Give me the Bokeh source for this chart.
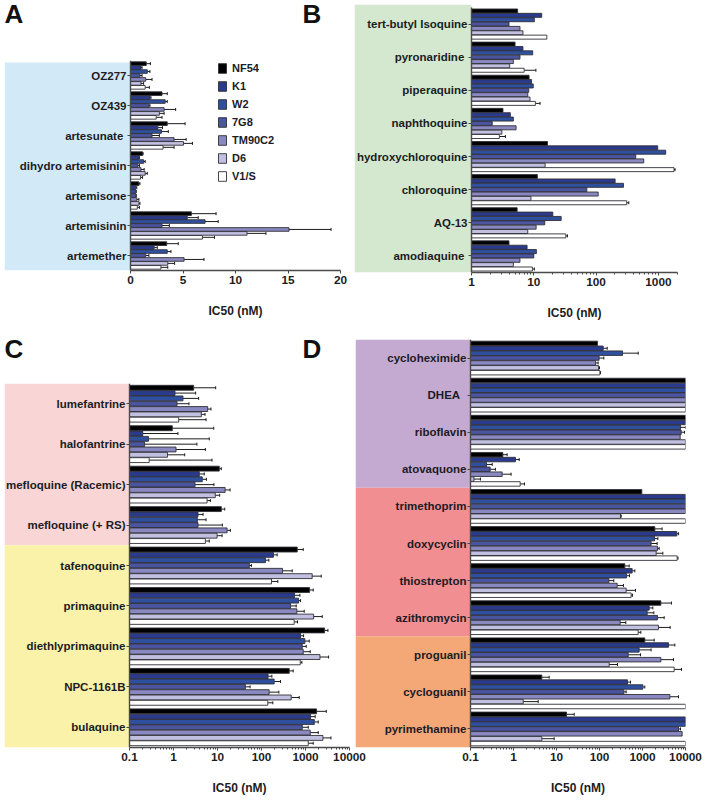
from math import log10

from bokeh.embed import file_html
from bokeh.layouts import column, row
from bokeh.models import (ColumnDataSource, FixedTicker, Label, Legend, LegendItem,
                          Range1d, TeeHead, Whisker)
from bokeh.plotting import figure
from bokeh.resources import INLINE

strains = ["NF54", "K1", "W2", "7G8", "TM90C2", "D6", "V1/S"]
strain_colors = ["#000000", "#2a3a8c", "#2f4f9f", "#4b559f", "#8a88c0", "#c2c0e0", "#ffffff"]
x_label = "IC50 (nM)"

# ---------- Panel A (top group first; strain order as above) ----------
a_drugs = ["OZ277", "OZ439", "artesunate ", "dihydro artemisinin", "artemisone", "artemisinin", "artemether"]
a_values = [
    [1.5, 1.0, 1.6, 0.9, 1.45, 1.0, 1.4],
    [3.0, 1.85, 3.3, 1.75, 3.2, 2.75, 2.45],
    [3.5, 2.6, 2.95, 2.05, 4.15, 5.05, 3.1],
    [1.15, 0.8, 1.25, 0.7, 1.0, 1.4, 0.95],
    [0.8, 0.5, 0.5, 0.5, 0.6, 0.8, 0.65],
    [5.8, 5.4, 7.1, 3.0, 15.1, 11.1, 6.85],
    [3.45, 2.25, 3.5, 1.45, 5.1, 3.55, 2.9],
]
a_upper = [
    [1.9, 1.1, 1.85, 1.1, 2.05, 1.25, 1.8],
    [3.5, 1.95, 3.5, 1.85, 4.3, 3.2, 3.0],
    [5.2, 3.05, 3.6, 2.75, 5.3, 5.9, 4.15],
    [1.2, 0.85, 1.4, 0.85, 1.3, 1.6, 1.15],
    [0.9, 0.6, 0.55, 0.55, 0.8, 0.9, 0.85],
    [8.15, 6.45, 8.35, 3.7, 19.1, 12.9, 8.0],
    [4.55, 2.55, 3.85, 1.75, 7.0, 4.2, 3.55],
]
a_bands = [("#d2eaf8", 7)]
a_ticks = [0, 5, 10, 15, 20]

# ---------- Panel B ----------
b_drugs = ["tert-butyl Isoquine", "pyronaridine ", "piperaquine", "naphthoquine", "hydroxychloroquine",
           "chloroquine", "AQ-13", "amodiaquine "]
b_values = [
    [5.5, 13.4, 10.2, 4.0, 6.0, 6.7, 16.2],
    [5.0, 6.7, 9.6, 6.0, 4.7, 4.1, 7.0],
    [8.4, 9.2, 9.8, 8.3, 8.0, 8.7, 10.6],
    [3.2, 4.2, 4.7, 2.15, 5.2, 3.07, 2.8],
    [16.6, 975, 1310, 433, 582, 15.2, 1780],
    [11.4, 202, 275, 71, 108, 9.0, 310],
    [5.4, 20.2, 27.5, 15, 10.9, 8.0, 32.6],
    [4.0, 7.8, 11, 10, 6.0, 4.7, 9.5],
]
b_upper = [
    [None, None, None, None, None, None, None],
    [None, None, None, None, None, None, 10.8],
    [None, None, None, None, None, None, 12.6],
    [None, None, None, None, None, None, 3.5],
    [None, None, None, None, None, None, 1850],
    [None, None, None, None, None, None, 335],
    [None, None, None, None, None, None, 34.7],
    [None, None, None, None, None, None, 10.2],
]
b_bands = [("#d3e8cf", 8)]
b_ticks = [1, 10, 100, 1000]

# ---------- Panel C ----------
c_drugs = ["lumefantrine", "halofantrine", "mefloquine (Racemic)", "mefloquine (+ RS)", "tafenoquine",
           "primaquine", "diethlyprimaquine", "NPC-1161B", "bulaquine"]
c_values = [
    [2.87, 1.08, 1.64, 1.2, 5.98, 4.29, 1.31],
    [0.94, 0.2, 0.27, 0.22, 1.14, 0.73, 0.28],
    [11, 3.86, 4.5, 3.08, 14.9, 8.9, 5.8],
    [12.2, 3.6, 3.48, 3.6, 16.5, 9.8, 5.3],
    [649, 187, 123, 53, 300, 1420, 169],
    [1240, 564, 695, 457, 637, 1530, 553],
    [2717, 772, 968, 843, 888, 2130, 759],
    [427, 141, 194, 43, 149, 473, 139],
    [1786, 1303, 1585, 843, 1282, 2490, 1153],
]
c_upper = [
    [9.1, 3.19, 3.73, 2.25, 7.1, 5.2, 5.5],
    [8.2, 1.26, 6.5, 3.4, 5.3, 1.8, 7.5],
    [12.2, 5.0, 5.6, 8.3, 19.3, 11.2, 6.9],
    [14.6, 4.7, 5.5, 12.9, 19.6, 12.7, 6.5],
    [887, 227, 147, 59, 499, 2280, 235],
    [1500, 745, 772, 615, 935, 2400, 659],
    [3235, 904, 1216, 1040, 1282, 3350, 828],
    [525, 172, 270, 55, 248, 720, 181],
    [2965, 1660, 1950, 1153, 1950, 3790, 1500],
]
c_bands = [("#f9d5d6", 4), ("#faf2a8", 5)]
log_ticks = [0.1, 1, 10, 100, 1000, 10000]

# ---------- Panel D ----------
d_drugs = ["cycloheximide", "DHEA  ", "riboflavin", "atovaquone", "trimethoprim", "doxycyclin", "thiostrepton",
           "azithromycin", "proguanil", "cycloguanil", "pyrimethamine"]
d_values = [
    [89.8, 122, 343, 98, 81, 95, 102],
    [10000, 10000, 10000, 10000, 10000, 10000, 10000],
    [10000, 10000, 7650, 7940, 7520, 10000, 10000],
    [0.565, 1.11, 0.235, 0.287, 0.545, 0.12, 1.43],
    [964, 10000, 10000, 10000, 10000, 308, 10000],
    [1936, 6280, 1900, 1585, 2230, 2080, 6400],
    [388, 575, 425, 165, 258, 417, 545],
    [2670, 1430, 1285, 2230, 303, 2350, 793],
    [1133, 4030, 836, 464, 2670, 168, 5450],
    [4.56, 448, 1018, 368, 4325, 1.68, 10000],
    [17.1, 10000, 10000, 6870, 8360, 4.56, 10000],
]
d_upper = [
    [None, 151, 794, 126, 93, 100, 105],
    [None, None, None, None, None, None, None],
    [None, None, 10000, 9500, None, None, None],
    [0.71, 1.36, 0.32, 0.38, 0.88, 0.17, 1.8],
    [None, None, None, None, None, 320, None],
    [2860, 6900, 2275, 2190, 2440, 2970, 6700],
    [490, 664, 499, 215, 361, 687, 585],
    [4720, 1740, 1836, 3190, 409, 4400, 914],
    [1870, 5650, 1585, 898, 5260, 262, 8070],
    [6.75, 526, 1130, 417, 6870, 3.75, None],
    [25.8, None, None, 7650, None, 8.83, None],
]
d_bands = [("#c4aad1", 4), ("#f08e92", 4), ("#f4a777", 3)]

FONT = "Liberation Sans"
TEXT = "#1c1c24"
AXIS = "#4a4a4a"
PITCH = 0.1315


def letter(p, text, x, y, side):
    p.add_layout(Label(x=x, y=y, x_units="canvas", y_units="canvas", text=text, text_font=FONT,
                       text_font_style="bold", text_font_size="26px", text_color="#111111"), side)


def axis_title(p, x, y):
    p.add_layout(Label(x=x, y=y, x_units="canvas", y_units="canvas", text=x_label, text_font=FONT,
                       text_font_style="bold", text_font_size="12px", text_color=TEXT, text_align="center",
                       text_baseline="middle"), "below")


def panel(drugs, values, upper, bands, xr, log, ticks, border, lead, fw, right, top, fh, bottom, legend=False,
          shrink=0, lift=0):
    """lead = pixels of frame left of the value axis: the coloured band and the group labels sit there.
    lift = pixels the band starts above the first group's upper edge (negative: below it)."""
    n = len(drugs)
    positions = [n - 1 - k for k in range(n)]  # first listed group on top
    if log:
        per_px = (log10(xr[1]) - log10(xr[0])) / fw
        start = 10 ** (log10(xr[0]) - lead * per_px)
    else:
        per_px = (xr[1] - xr[0]) / fw
        start = xr[0] - lead * per_px
    group_px = fh / n
    extra = max(lift, 0)
    kw = {"x_axis_type": "log"} if log else {}
    p = figure(width=border + lead + fw + shrink + right, height=top - extra + fh + extra + bottom,
               y_range=Range1d(-0.5, n - 0.5 + extra / group_px), x_range=Range1d(start, xr[1]),
               output_backend="svg", toolbar_location=None, min_border_left=border, min_border_right=right,
               min_border_top=top - extra, min_border_bottom=bottom, frame_width=lead + fw + shrink,
               frame_height=fh + extra, **kw)
    p.background_fill_color = None
    p.border_fill_color = None
    p.outline_line_color = None
    p.grid.visible = False

    edge = n - 0.5
    first = True
    for colour, count in bands:
        band_top = edge + lift / group_px if first else edge
        p.quad(left=start, right=xr[0], top=band_top, bottom=edge - count, fill_color=colour, line_color=None)
        edge -= count
        first = False

    items = []
    for i, (name, colour) in enumerate(zip(strains, strain_colors)):
        off = (3 - i) * PITCH
        vals = [row_[i] for row_ in values]
        ys = [y + off for y in positions]
        src = ColumnDataSource(dict(y=ys, value=vals, base=[xr[0]] * n))
        r = p.hbar(y="y", right="value", left="base", height=PITCH * 0.92,
                   source=src, fill_color=colour, line_color="#303038", line_width=0.9)
        items.append(LegendItem(label=name, renderers=[r]))
        trip = [(y, v, u[i]) for y, v, u in zip(ys, vals, upper) if u[i] is not None]
        if trip:
            esrc = ColumnDataSource(dict(y=[q[0] for q in trip], lower=[q[1] for q in trip],
                                         upper=[q[2] for q in trip]))
            p.add_layout(Whisker(base="y", lower="lower", upper="upper", source=esrc, dimension="width",
                                 line_color="#1c1c1c", line_width=1,
                                 upper_head=TeeHead(size=3, line_color="#1c1c1c", line_width=1), lower_head=None))

    xa, ya = p.xaxis[0], p.yaxis[0]
    if log:
        minors = [m * d for d in ticks for m in range(2, 10) if m * d < xr[1]]
        xa.ticker = FixedTicker(ticks=ticks, minor_ticks=minors)
        xa.major_label_overrides = {t: str(t) for t in ticks}
    else:
        xa.ticker = FixedTicker(ticks=ticks)
    xa.bounds = xr
    xa.major_label_text_font = FONT
    xa.major_label_text_font_style = "bold"
    xa.major_label_text_font_size = "11.8px"
    xa.major_label_text_color = TEXT
    xa.major_label_standoff = 2
    xa.axis_line_color = AXIS
    xa.axis_line_width = 1.4
    xa.major_tick_line_color = AXIS
    xa.major_tick_out = 3
    xa.major_tick_in = 0
    xa.minor_tick_line_color = AXIS if log else None
    xa.minor_tick_out = 2
    xa.minor_tick_in = 0

    ya.fixed_location = xr[0]
    ya.bounds = (-0.5, n - 0.5)
    ya.ticker = FixedTicker(ticks=positions)
    ya.major_label_overrides = dict(zip(positions, drugs))
    ya.major_label_text_font = FONT
    ya.major_label_text_font_style = "bold"
    ya.major_label_text_font_size = "11.5px"
    ya.major_label_text_color = TEXT
    ya.major_label_standoff = 1
    ya.axis_line_color = AXIS
    ya.axis_line_width = 1.4
    ya.major_tick_line_color = AXIS
    ya.major_tick_out = 3
    ya.major_tick_in = 0
    ya.minor_tick_line_color = None

    if legend:
        lg = Legend(items=items, location=(lead + 87, 88), glyph_width=10, glyph_height=12, spacing=6, padding=0,
                    margin=0, label_standoff=5, background_fill_alpha=0, border_line_color=None,
                    label_text_font=FONT, label_text_font_style="bold", label_text_font_size="11px",
                    label_text_color=TEXT, label_height=12)
        p.add_layout(lg)
    axis_title(p, border + lead + fw / 2, top + fh + 40)
    return p


pa = panel(a_drugs, a_values, a_upper, a_bands, (0, 20), False, a_ticks, 4, 126, 210, 10, 60, 210, 65, legend=True,
           lift=-2)
letter(pa, "A", 4, 28, "above")
letter(pa, "B", 302, 28, "above")
pb = panel(b_drugs, b_values, b_upper, b_bands, (1, 2026), True, b_ticks, 4, 117, 206, 13, 7, 265, 63, lift=3)
pc = panel(c_drugs, c_values, c_upper, c_bands, (0.1, 10000), True, log_ticks, 4, 125, 220, 26, 48, 364, 48)
letter(pc, "C", 4, 28, "above")
letter(pc, "D", 302, 28, "right")
pd_ = panel(d_drugs, d_values, d_upper, d_bands, (0.1, 10000), True, log_ticks, 0, 115, 215, 5, 4, 408, 48, shrink=20)
pd_.margin = (0, 0, 0, -20)

p = column(row(column(pa), column(pb)), row(column(pc), column(pd_)))
open("out.html", "w").write(file_html(p, INLINE))
